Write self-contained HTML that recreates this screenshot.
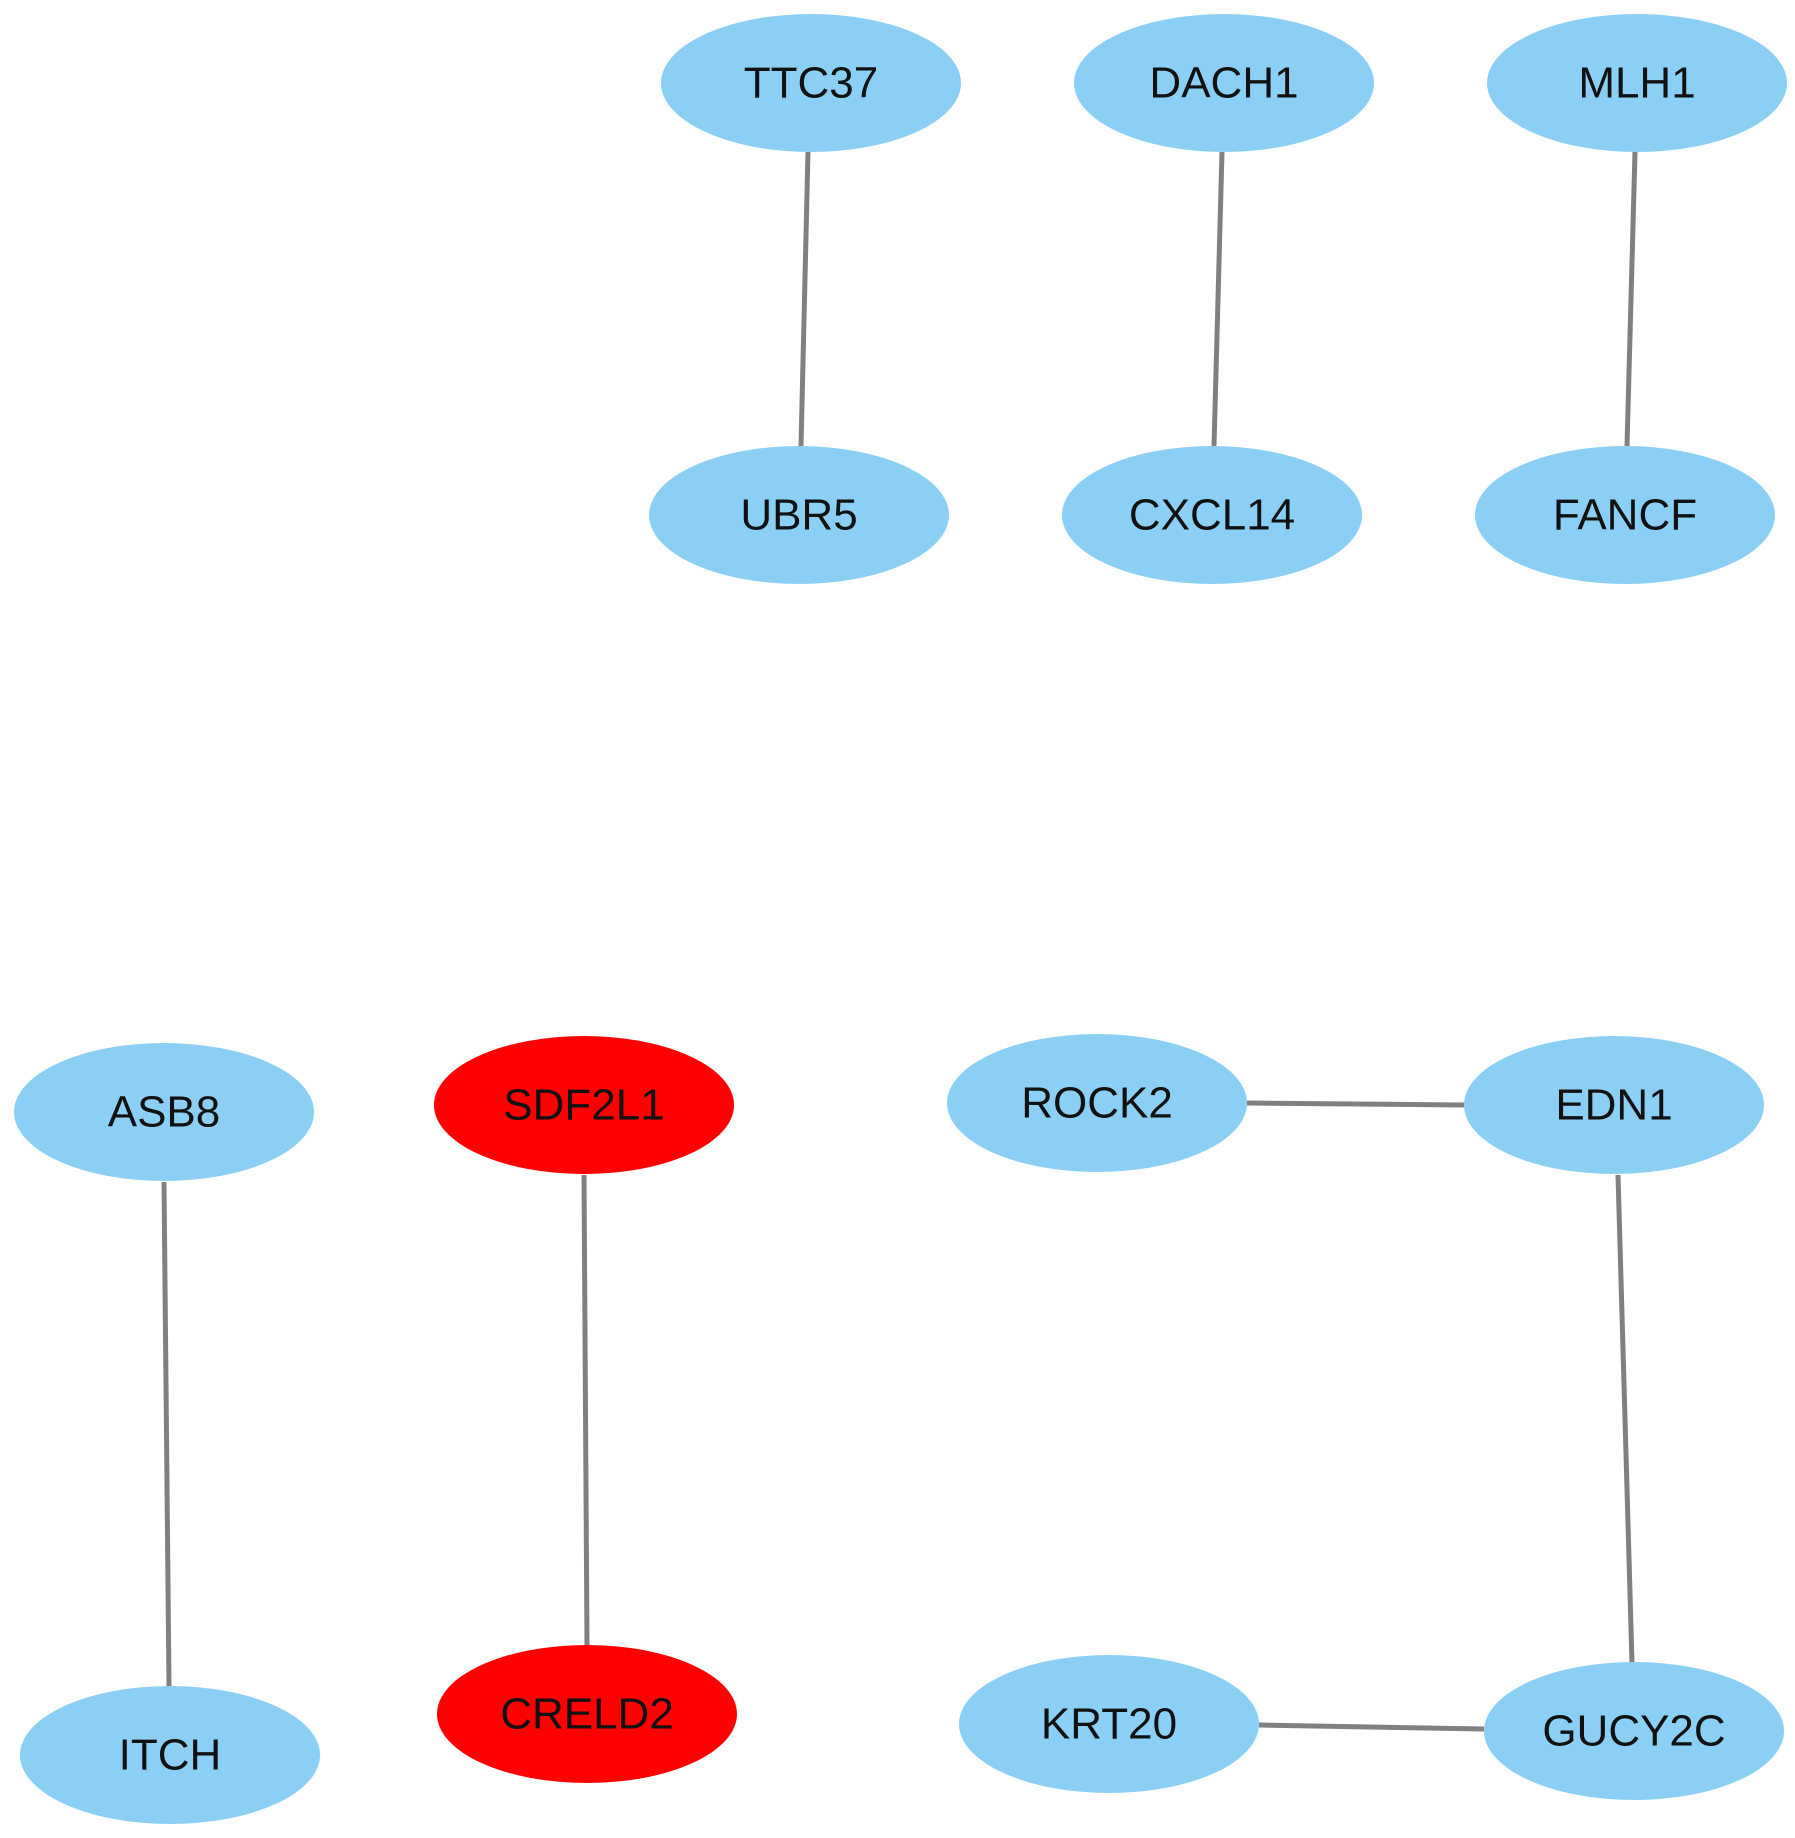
<!DOCTYPE html>
<html><head><meta charset="utf-8"><style>html,body{margin:0;padding:0;background:#fff}</style></head>
<body>
<svg width="1795" height="1833" viewBox="0 0 1795 1833" xmlns="http://www.w3.org/2000/svg">
<g stroke="#808080" stroke-width="5" fill="none">
<line x1="808" y1="152" x2="801" y2="446"/>
<line x1="1222" y1="152" x2="1214" y2="446"/>
<line x1="1635" y1="152" x2="1627" y2="446"/>
<line x1="164" y1="1182" x2="169" y2="1686"/>
<line x1="584" y1="1175" x2="587" y2="1645"/>
<line x1="1247" y1="1103" x2="1464" y2="1105"/>
<line x1="1618" y1="1175" x2="1632" y2="1663"/>
<line x1="1259" y1="1725" x2="1484" y2="1729"/>
</g>
<g fill="#8ccff5">
<ellipse cx="811" cy="83" rx="150" ry="69"/>
<ellipse cx="1224" cy="83" rx="150" ry="69"/>
<ellipse cx="1637" cy="83" rx="150" ry="69"/>
<ellipse cx="799" cy="515" rx="150" ry="69"/>
<ellipse cx="1212" cy="515" rx="150" ry="69"/>
<ellipse cx="1625" cy="515" rx="150" ry="69"/>
<ellipse cx="164" cy="1112" rx="150" ry="69"/>
<ellipse cx="1097" cy="1103" rx="150" ry="69"/>
<ellipse cx="1614" cy="1105" rx="150" ry="69"/>
<ellipse cx="170" cy="1755" rx="150" ry="69"/>
<ellipse cx="1109" cy="1724" rx="150" ry="69"/>
<ellipse cx="1634" cy="1731" rx="150" ry="69"/>
</g>
<g fill="#ff0000">
<ellipse cx="584" cy="1105" rx="150" ry="69"/>
<ellipse cx="587" cy="1714" rx="150" ry="69"/>
</g>
<g font-family="Liberation Sans, sans-serif" font-size="44" fill="#111" text-anchor="middle" dominant-baseline="central">
<text x="811" y="83">TTC37</text>
<text x="1224" y="83">DACH1</text>
<text x="1637" y="83">MLH1</text>
<text x="799" y="515">UBR5</text>
<text x="1212" y="515">CXCL14</text>
<text x="1625" y="515">FANCF</text>
<text x="164" y="1112">ASB8</text>
<text x="584" y="1105">SDF2L1</text>
<text x="1097" y="1103">ROCK2</text>
<text x="1614" y="1105">EDN1</text>
<text x="170" y="1755">ITCH</text>
<text x="587" y="1714">CRELD2</text>
<text x="1109" y="1724">KRT20</text>
<text x="1634" y="1731">GUCY2C</text>
</g>
</svg>
</body></html>
